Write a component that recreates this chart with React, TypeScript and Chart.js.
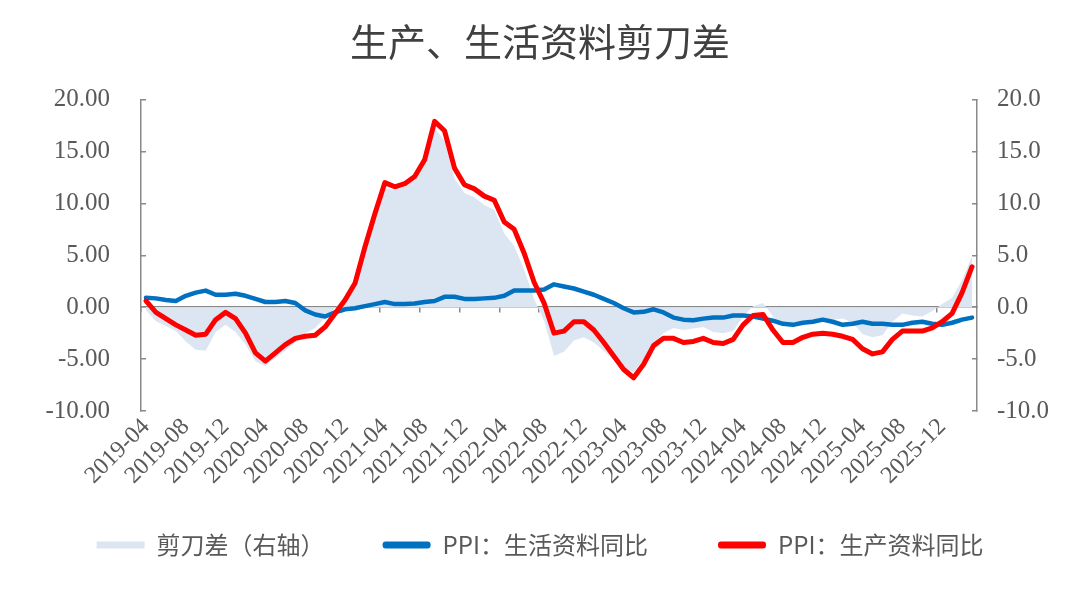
import { useEffect, useRef } from 'react'
import { Chart, registerables } from 'chart.js'

Chart.register(...registerables)

const months = [
  '2019-04', '2019-05', '2019-06', '2019-07', '2019-08', '2019-09', '2019-10', '2019-11', '2019-12',
  '2020-01', '2020-02', '2020-03', '2020-04', '2020-05', '2020-06', '2020-07', '2020-08', '2020-09', '2020-10', '2020-11', '2020-12',
  '2021-01', '2021-02', '2021-03', '2021-04', '2021-05', '2021-06', '2021-07', '2021-08', '2021-09', '2021-10', '2021-11', '2021-12',
  '2022-01', '2022-02', '2022-03', '2022-04', '2022-05', '2022-06', '2022-07', '2022-08', '2022-09', '2022-10', '2022-11', '2022-12',
  '2023-01', '2023-02', '2023-03', '2023-04', '2023-05', '2023-06', '2023-07', '2023-08', '2023-09', '2023-10', '2023-11', '2023-12',
  '2024-01', '2024-02', '2024-03', '2024-04', '2024-05', '2024-06', '2024-07', '2024-08', '2024-09', '2024-10', '2024-11', '2024-12',
  '2025-01', '2025-02', '2025-03', '2025-04', '2025-05', '2025-06', '2025-07', '2025-08', '2025-09', '2025-10', '2025-11', '2025-12',
  '2026-01', '2026-02', '2026-03'
]

// PPI：生产资料同比 (left axis)
const producerPPI = [
  0.6, -0.5, -1.1, -1.7, -2.2, -2.7, -2.6, -1.2, -0.5, -1.1, -2.5, -4.4,
  -5.2, -4.4, -3.6, -3.0, -2.8, -2.7, -1.9, -0.6, 0.7, 2.3, 5.8, 9.0,
  12.0, 11.6, 11.9, 12.6, 14.2, 17.9, 17.0, 13.4, 11.8, 11.4, 10.7, 10.3,
  8.2, 7.5, 5.2, 2.4, 0.4, -2.5, -2.3, -1.4, -1.4, -2.2, -3.4, -4.7,
  -6.0, -6.8, -5.5, -3.7, -3.0, -3.0, -3.4, -3.3, -3.0, -3.4, -3.5, -3.1,
  -1.7, -0.8, -0.7, -2.2, -3.4, -3.4, -2.9, -2.6, -2.5, -2.6, -2.8, -3.1,
  -4.0, -4.5, -4.3, -3.1, -2.3, -2.3, -2.3, -2.0, -1.4, -0.6, 1.4, 3.9
]

// PPI：生活资料同比 (left axis)
const consumerPPI = [
  0.9, 0.85, 0.7, 0.6, 1.1, 1.4, 1.6, 1.2, 1.2, 1.3, 1.1, 0.8,
  0.5, 0.5, 0.6, 0.4, -0.3, -0.7, -0.9, -0.5, -0.2, -0.1, 0.1, 0.3,
  0.5, 0.3, 0.3, 0.35, 0.5, 0.6, 1.0, 1.0, 0.8, 0.8, 0.85, 0.9,
  1.1, 1.6, 1.6, 1.6, 1.7, 2.2, 2.0, 1.8, 1.5, 1.2, 0.8, 0.4,
  -0.1, -0.5, -0.45, -0.2, -0.5, -1.0, -1.2, -1.25, -1.1, -1.0, -1.0, -0.8,
  -0.8, -0.9, -1.1, -1.3, -1.6, -1.7, -1.5, -1.4, -1.2, -1.4, -1.7, -1.6,
  -1.4, -1.6, -1.6, -1.7, -1.7, -1.5, -1.4, -1.6, -1.7, -1.5, -1.2, -1.0
]

// 剪刀差（右轴）
const scissorsGap = [
  -0.3, -1.35, -1.8, -2.3, -3.3, -4.1, -4.2, -2.4, -1.7, -2.4, -3.6, -5.2,
  -5.7, -4.9, -4.2, -3.4, -2.5, -2.0, -1.0, -0.1, 0.9, 2.4, 5.7, 8.7,
  11.5, 11.3, 11.6, 12.25, 13.7, 17.3, 16.0, 12.4, 11.0, 10.6, 9.85, 9.4,
  7.1, 5.9, 3.6, 0.8, -1.3, -4.7, -4.3, -3.2, -2.9, -3.4, -4.2, -5.1,
  -5.9, -6.3, -5.05, -3.5, -2.5, -2.0, -2.2, -2.05, -1.9, -2.4, -2.5, -2.3,
  -0.9, 0.1, 0.4, -0.9, -1.8, -1.7, -1.4, -1.2, -1.3, -1.2, -1.1, -1.5,
  -2.6, -2.9, -2.7, -1.4, -0.6, -0.8, -0.9, -0.4, 0.3, 0.9, 2.6, 4.9
]

const RED = '#FF0000'
const BLUE = '#0070C0'
const AREA = '#DCE6F2'
const AXIS = '#898989'
const TEXT = '#595959'
const CJK = '"Noto Sans CJK SC", "Noto Sans", sans-serif'
const NUM = '"Liberation Serif", serif'

export default function App() {
  const canvasRef = useRef<HTMLCanvasElement>(null)

  useEffect(() => {
    if (!canvasRef.current) return
    const ctx = canvasRef.current.getContext('2d')
    if (!ctx) return

    // legend swatch colour and trailing spacer, by dataset index
    const swatch = [RED, BLUE, AREA]
    const gap = ['', '\u3000', '\u3000']

    const chart = new Chart(ctx, {
      type: 'line',
      data: {
        labels: months,
        datasets: [
          {
            label: 'PPI：生产资料同比',
            data: producerPPI,
            borderColor: RED,
            backgroundColor: RED,
            borderWidth: 5,
            pointRadius: 0,
            borderJoinStyle: 'round',
            borderCapStyle: 'round',
            yAxisID: 'y',
            order: 0
          },
          {
            label: 'PPI：生活资料同比',
            data: consumerPPI,
            borderColor: BLUE,
            backgroundColor: BLUE,
            borderWidth: 4.5,
            pointRadius: 0,
            borderJoinStyle: 'round',
            borderCapStyle: 'round',
            yAxisID: 'y',
            order: 1
          },
          {
            label: '剪刀差（右轴）',
            data: scissorsGap,
            borderColor: AREA,
            backgroundColor: AREA,
            borderWidth: 0,
            pointRadius: 0,
            fill: 'origin',
            yAxisID: 'y1',
            order: 2
          }
        ]
      },
      options: {
        responsive: true,
        maintainAspectRatio: false,
        animation: false,
        layout: { padding: { left: 0, right: 0, top: 0, bottom: 29 } },
        plugins: {
          title: {
            display: true,
            text: '生产、生活资料剪刀差',
            color: '#404040',
            font: { family: CJK, size: 38, weight: 'normal' },
            padding: { top: 19, bottom: 35 }
          },
          legend: {
            position: 'bottom',
            labels: {
              boxWidth: 48,
              boxHeight: 7,
              padding: 46,
              color: TEXT,
              font: { family: CJK, size: 24 },
              sort: (a, b) => b.datasetIndex - a.datasetIndex,
              generateLabels: (c) => {
                const items = Chart.defaults.plugins.legend.labels.generateLabels(c)
                return items.map((item) => ({
                  ...item,
                  text: item.text + gap[item.datasetIndex],
                  fillStyle: swatch[item.datasetIndex],
                  strokeStyle: swatch[item.datasetIndex],
                  lineWidth: 0,
                  borderRadius: item.datasetIndex === 2 ? 0 : 3
                }))
              }
            }
          },
          tooltip: { enabled: false }
        },
        scales: {
          x: {
            type: 'category',
            offset: true,
            grid: { display: false, drawTicks: false },
            border: { display: false },
            ticks: {
              autoSkip: false,
              minRotation: 45,
              maxRotation: 45,
              padding: 2,
              color: TEXT,
              font: { family: NUM, size: 24 },
              callback: (_v, i) => (i % 4 === 0 ? months[i] : '')
            },
            afterFit: (s) => { s.height = 76 }
          },
          // zero line with tick marks every 4 months
          x2: {
            type: 'category',
            axis: 'x',
            position: { y: 0 },
            offset: true,
            grid: {
              offset: true,
              drawOnChartArea: false,
              drawTicks: true,
              tickLength: 5,
              lineWidth: 1.5,
              color: (c) => (c.index !== undefined && c.index % 4 === 0 ? AXIS : 'rgba(0,0,0,0)')
            },
            border: { display: true, color: AXIS, width: 1.5 },
            ticks: { display: false }
          },
          y: {
            position: 'left',
            min: -10,
            max: 20,
            ticks: {
              stepSize: 5,
              padding: 36,
              color: TEXT,
              font: { family: NUM, size: 25 },
              callback: (v) => Number(v).toFixed(2)
            },
            grid: { drawOnChartArea: false, drawTicks: true, tickLength: -5, color: AXIS, lineWidth: 1.5 },
            border: { display: true, color: AXIS, width: 1.5 },
            afterFit: (s) => { s.width = 141 }
          },
          y1: {
            position: 'right',
            min: -10,
            max: 20,
            ticks: {
              stepSize: 5,
              padding: 25,
              color: TEXT,
              font: { family: NUM, size: 25 },
              callback: (v) => Number(v).toFixed(1)
            },
            grid: { drawOnChartArea: false, drawTicks: true, tickLength: -5, color: AXIS, lineWidth: 1.5 },
            border: { display: true, color: AXIS, width: 1.5 },
            afterFit: (s) => { s.width = 103 }
          }
        }
      }
    })

    return () => {
      chart.destroy()
    }
  }, [])

  return (
    <div style={{ position: 'absolute', left: 0, top: 0, width: 1080, height: 596, background: '#fff' }}>
      <canvas ref={canvasRef} />
    </div>
  )
}
